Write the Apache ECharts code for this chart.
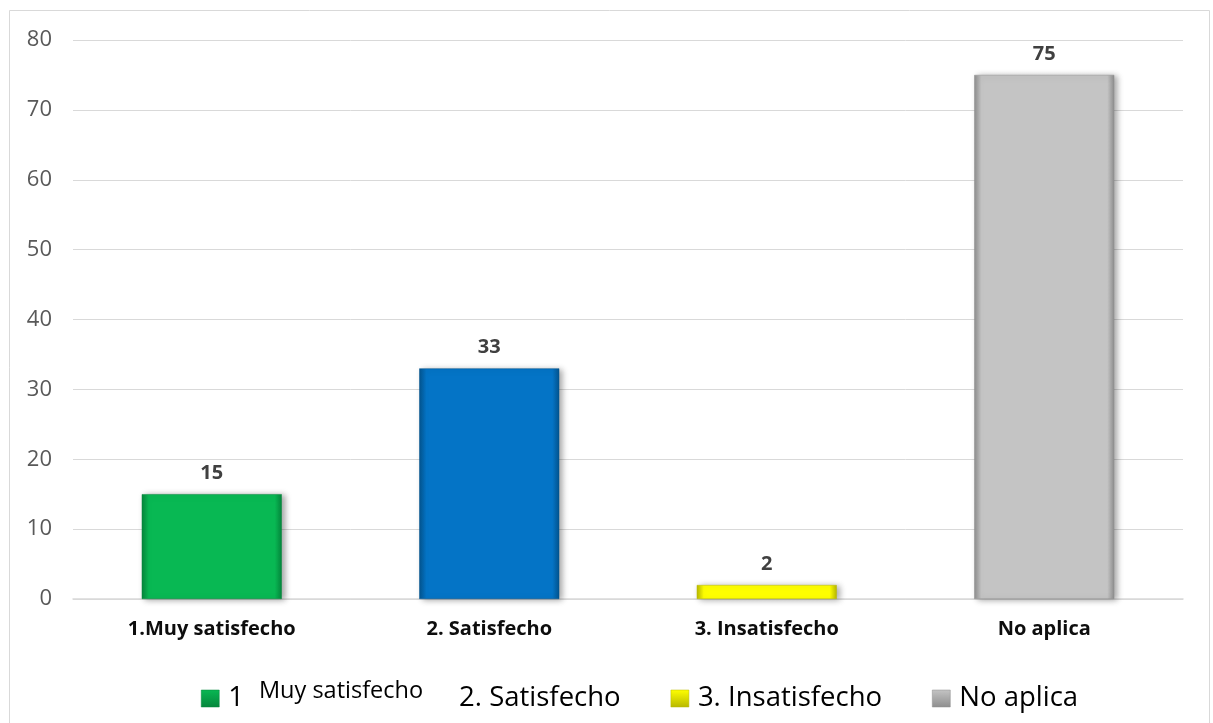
<!DOCTYPE html>
<html>
<head>
<meta charset="utf-8">
<script src="https://cdn.jsdelivr.net/npm/echarts@6/dist/echarts.min.js"></script>
<style>
html,body{margin:0;padding:0;background:#fff;}
#chart{width:1213px;height:723px;}
</style>
</head>
<body>
<div id="chart"></div>
<script>
const categories = ['1.Muy satisfecho', '2. Satisfecho', '3. Insatisfecho', 'No aplica'];
const values = [15, 33, 2, 75];
const yTicks = [0, 10, 20, 30, 40, 50, 60, 70, 80];
const colors = ['#08B853', '#0474C6', '#FFFF00', '#C4C4C4'];
const edgeColors = ['#05863C', '#03548F', '#B8B800', '#8E8E8E'];

const FONT = '"Open Sans", "Noto Sans", sans-serif';

function barStyle(i) {
  return {
    color: {
      type: 'linear', x: 0, y: 0, x2: 1, y2: 0,
      colorStops: [
        {offset: 0, color: edgeColors[i]},
        {offset: 0.05, color: colors[i]},
        {offset: 0.95, color: colors[i]},
        {offset: 1, color: edgeColors[i]}
      ]
    },
    borderColor: edgeColors[i],
    borderWidth: 0.5,
    shadowColor: 'rgba(0,0,0,0.35)',
    shadowBlur: 6,
    shadowOffsetX: 3,
    shadowOffsetY: 1
  };
}

function iconStyle(i) {
  return {
    color: {
      type: 'linear', x: 0, y: 0, x2: 0, y2: 1,
      colorStops: [
        {offset: 0, color: colors[i]},
        {offset: 1, color: edgeColors[i]}
      ]
    },
    borderColor: edgeColors[i],
    borderWidth: 0.5
  };
}

const series = categories.map((name, i) => ({
  name: name,
  type: 'bar',
  stack: 'all',
  barWidth: 140,
  data: values.map((v, j) => (j === i ? v : '-')),
  itemStyle: barStyle(i),
  label: {
    show: true,
    position: 'top',
    distance: 11,
    fontFamily: FONT,
    fontWeight: 'bold',
    fontSize: 20,
    color: '#404040'
  }
}));

const chart = echarts.init(document.getElementById('chart'), null, {renderer: 'canvas'});
chart.setOption({
  animation: false,
  backgroundColor: '#fff',
  graphic: [{
    type: 'rect',
    shape: {x: 9.5, y: 10.5, width: 1200, height: 730},
    style: {fill: 'none', stroke: '#d9d9d9', lineWidth: 1},
    silent: true
  }],
  grid: {left: 73, right: 30, top: 40, bottom: 124},
  xAxis: {
    type: 'category',
    data: categories,
    axisTick: {show: false},
    axisLine: {lineStyle: {color: '#d9d9d9', width: 1.5}},
    axisLabel: {
      margin: 20,
      fontFamily: FONT,
      fontWeight: 'bold',
      fontSize: 20,
      color: '#0d0d0d'
    }
  },
  yAxis: {
    type: 'value',
    min: yTicks[0],
    max: yTicks[yTicks.length - 1],
    interval: 10,
    axisLine: {show: false},
    axisTick: {show: false},
    splitLine: {lineStyle: {color: '#d9d9d9', width: 1}},
    axisLabel: {
      margin: 21,
      fontFamily: FONT,
      fontSize: 22,
      color: '#595959'
    }
  },
  legend: {
    left: 196,
    top: 674,
    itemWidth: 18,
    itemHeight: 17,
    itemGap: 50,
    icon: 'rect',
    data: [
      {name: categories[0], itemStyle: iconStyle(0)},
      {name: categories[2], itemStyle: iconStyle(2)},
      {name: categories[3], itemStyle: iconStyle(3)}
    ],
    formatter: function (name) {
      if (name === categories[0]) {
        return '1{s|Muy satisfecho}' + categories[1];
      }
      return name;
    },
    textStyle: {
      fontFamily: FONT,
      fontSize: 27.5,
      color: '#000',
      padding: [0, 0, 0, 4],
      rich: {
        s: {fontFamily: FONT, fontSize: 23.5, color: '#000', padding: [0, 36, 15, 15]}
      }
    }
  },
  series: series
});
</script>
</body>
</html>
